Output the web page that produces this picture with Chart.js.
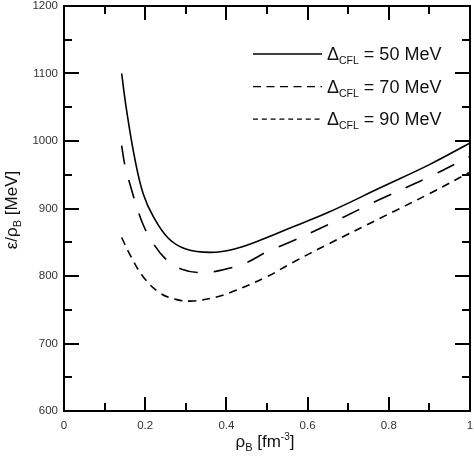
<!DOCTYPE html>
<html>
<head>
<meta charset="utf-8">
<script src="https://cdn.jsdelivr.net/npm/chart.js@4/dist/chart.umd.min.js"></script>
<style>
html, body { margin: 0; padding: 0; background: #fff; }
</style>
</head>
<body>
<canvas id="chart" width="474" height="457"></canvas>
<script>
// curve data (rho_B in fm^-3, energy per baryon in MeV)
var rho50 = [0.142, 0.154, 0.175, 0.195, 0.22, 0.257, 0.30, 0.36, 0.42, 0.5, 0.56, 0.65, 0.78, 0.9, 1.0];
var e50   = [1100, 1046, 972, 922, 888, 856, 840, 835, 840, 857, 872, 894, 931, 965, 997];

var rho70 = [0.142, 0.15, 0.164, 0.179, 0.195, 0.216, 0.249, 0.29, 0.34, 0.39, 0.45, 0.5, 0.56, 0.65, 0.78, 0.9, 1.0];
var e70   = [993, 964, 933, 903, 876, 852, 826, 810, 805, 809, 820, 836, 851, 876, 914, 947, 977];

var rho90 = [0.142, 0.163, 0.195, 0.236, 0.278, 0.318, 0.376, 0.42, 0.5, 0.56, 0.65, 0.78, 0.9, 1.0];
var e90   = [857, 831, 799, 775, 765, 763, 769, 778, 799, 819, 847, 886, 922, 954];

var seriesLabels = ["= 50 MeV", "= 70 MeV", "= 90 MeV"];

var xMajor = [0, 0.2, 0.4, 0.6, 0.8, 1];
var xMinor = [0.1, 0.3, 0.5, 0.7, 0.9];
var yMajor = [600, 700, 800, 900, 1000, 1100, 1200];
var yMinor = [650, 750, 850, 950, 1050, 1150];

var FONT = '"Liberation Sans", Arial, sans-serif';

function toPoints(xs, ys) {
	return xs.map(function(x, i) { return { x: x, y: ys[i] }; });
}

// draws a list of text pieces [text, size, shift] centred at cx on the current ctx
function richText(ctx, parts, cx, baseline) {
	var total = 0;
	parts.forEach(function(p) {
		ctx.font = p[1] + "px " + FONT;
		total += ctx.measureText(p[0]).width;
	});
	var x = cx - total / 2;
	parts.forEach(function(p) {
		ctx.font = p[1] + "px " + FONT;
		ctx.fillText(p[0], x, baseline + p[2]);
		x += ctx.measureText(p[0]).width;
	});
}

var framePlugin = {
	id: "frame",
	afterDatasetsDraw: function(chart) {
		var ctx = chart.ctx, a = chart.chartArea;
		var sx = chart.scales.x, sy = chart.scales.y;
		ctx.save();
		ctx.strokeStyle = "#000";
		ctx.lineWidth = 2;
		ctx.setLineDash([]);
		ctx.strokeRect(a.left, a.top, a.right - a.left, a.bottom - a.top);

		ctx.beginPath();
		function xTicks(vals, len) {
			vals.forEach(function(v) {
				var px = Math.round(sx.getPixelForValue(v));
				ctx.moveTo(px, a.bottom); ctx.lineTo(px, a.bottom - len);
				ctx.moveTo(px, a.top); ctx.lineTo(px, a.top + len);
			});
		}
		function yTicks(vals, len) {
			vals.forEach(function(v) {
				var py = Math.round(sy.getPixelForValue(v));
				ctx.moveTo(a.left, py); ctx.lineTo(a.left + len, py);
				ctx.moveTo(a.right, py); ctx.lineTo(a.right - len, py);
			});
		}
		xTicks(xMajor, 14);
		xTicks(xMinor, 8);
		yTicks(yMajor, 15);
		yTicks(yMinor, 8);
		ctx.stroke();

		// legend
		var legendDash = [[], [8, 5.5], [5, 3.8]];
		for (var i = 0; i < seriesLabels.length; i++) {
			var ly = 54 + i * 32.6;
			ctx.beginPath();
			ctx.lineWidth = 1.3;
			ctx.setLineDash(legendDash[i]);
			ctx.moveTo(253, ly);
			ctx.lineTo(322, ly);
			ctx.stroke();
			ctx.setLineDash([]);
			ctx.fillStyle = "#111";
			ctx.textAlign = "left";
			ctx.textBaseline = "alphabetic";
			var x = 327;
			ctx.font = "18px " + FONT;
			ctx.fillText("\u0394", x, ly + 6);
			x += ctx.measureText("\u0394").width;
			ctx.font = "10.5px " + FONT;
			ctx.fillText("CFL", x, ly + 10);
			x += ctx.measureText("CFL").width;
			ctx.font = "18px " + FONT;
			ctx.fillText(" " + seriesLabels[i], x, ly + 6);
		}

		// axis titles
		ctx.fillStyle = "#111";
		ctx.textAlign = "left";
		ctx.textBaseline = "alphabetic";
		richText(ctx, [["\u03C1", 17, 0], ["B", 11, 4], [" [fm", 17, 0], ["-3", 10, -7], ["]", 17, 0]], 265, 447);

		ctx.translate(16.5, 210);
		ctx.rotate(-Math.PI / 2);
		richText(ctx, [["\u03B5/\u03C1", 17, 0], ["B", 11, 4], [" [MeV]", 17, 0]], 0, 0);
		ctx.restore();
	}
};

var chart = new Chart(document.getElementById("chart"), {
	type: "scatter",
	data: {
		datasets: [
			{ label: seriesLabels[0], data: toPoints(rho50, e50), borderDash: [] },
			{ label: seriesLabels[1], data: toPoints(rho70, e70), borderDash: [19, 16] },
			{ label: seriesLabels[2], data: toPoints(rho90, e90), borderDash: [8, 6] }
		].map(function(ds) {
			ds.showLine = true;
			ds.borderColor = "#000";
			ds.borderWidth = 1.6;
			ds.pointRadius = 0;
			ds.tension = 0.4;
			return ds;
		})
	},
	options: {
		responsive: false,
		animation: false,
		layout: { padding: { top: 6, right: 4, left: 0, bottom: 0 } },
		plugins: {
			legend: { display: false },
			tooltip: { enabled: false }
		},
		scales: {
			x: {
				type: "linear",
				min: 0, max: 1,
				afterFit: function(scale) {
					scale.height = 46;
					scale.paddingLeft = 0;
					scale.paddingRight = 0;
				},
				grid: { display: false, drawTicks: false },
				border: { display: false },
				ticks: {
					stepSize: 0.2,
					padding: 8,
					color: "#333",
					font: { family: FONT, size: 11.5 },
					maxRotation: 0,
					callback: function(v) { return String(Number(v.toFixed(2))); }
				}
			},
			y: {
				min: 600, max: 1200,
				afterFit: function(scale) {
					scale.width = 64;
					scale.paddingTop = 0;
					scale.paddingBottom = 0;
				},
				grid: { display: false, drawTicks: false },
				border: { display: false },
				ticks: {
					stepSize: 100,
					padding: 6,
					color: "#333",
					font: { family: FONT, size: 11.5 },
					callback: function(v) { return String(v); }
				}
			}
		}
	},
	plugins: [framePlugin]
});
</script>
</body>
</html>
